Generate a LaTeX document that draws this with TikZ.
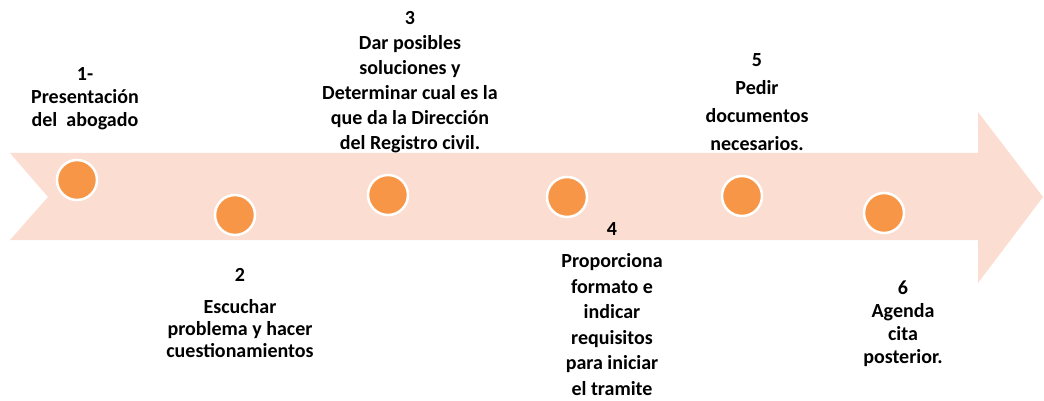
\documentclass[tikz,border=0pt]{standalone}
\usepackage{fontspec}
\setmainfont{Carlito}
\definecolor{peach}{HTML}{FBDDD2}
\definecolor{dot}{HTML}{F79646}
\begin{document}
\begin{tikzpicture}[x=1pt,y=-1pt,
  dotnode/.style={circle,fill=dot,draw=white,line width=2.5pt,minimum size=40pt,inner sep=0pt},
  lbl/.style={anchor=north,align=center,inner sep=0pt,font=\fontsize{20}{#1}\selectfont\bfseries},
  lbl/.default=25]
\useasboundingbox (0,0) rectangle (1044,401);
% big arrow
\fill[peach] (10,153) -- (978,153) -- (978,112) -- (1043,197) -- (978,283) -- (978,240) -- (10,240) -- (48,197) -- cycle;
% dots
\node[dotnode] (d1) at (77,180) {};
\node[dotnode] (d2) at (235,215) {};
\node[dotnode] (d3) at (388,195) {};
\node[dotnode] (d4) at (567,197) {};
\node[dotnode] (d5) at (742,196) {};
\node[dotnode] (d6) at (884,213) {};
% labels
\node[lbl=23] (t1) at (85,67) {1-\\Presentación\\del\ \ abogado};
\node[lbl=22] (t2) at (240,268) {2\\[10pt]Escuchar\\problema y hacer\\cuestionamientos};
\node[lbl=25] (t3) at (410,11) {3\\Dar posibles\\soluciones y\\Determinar cual es la\\que da la Dirección\\del Registro civil.};
\node[lbl=25.5] (t4) at (612,222) {4\\[7pt]Proporciona\\formato e\\indicar\\requisitos\\para iniciar\\el tramite};
\node[lbl=28] (t5) at (757,53) {5\\Pedir\\documentos\\necesarios.};
\node[lbl=23] (t6) at (903,281) {6\\Agenda\\cita\\posterior.};
\end{tikzpicture}
\end{document}
